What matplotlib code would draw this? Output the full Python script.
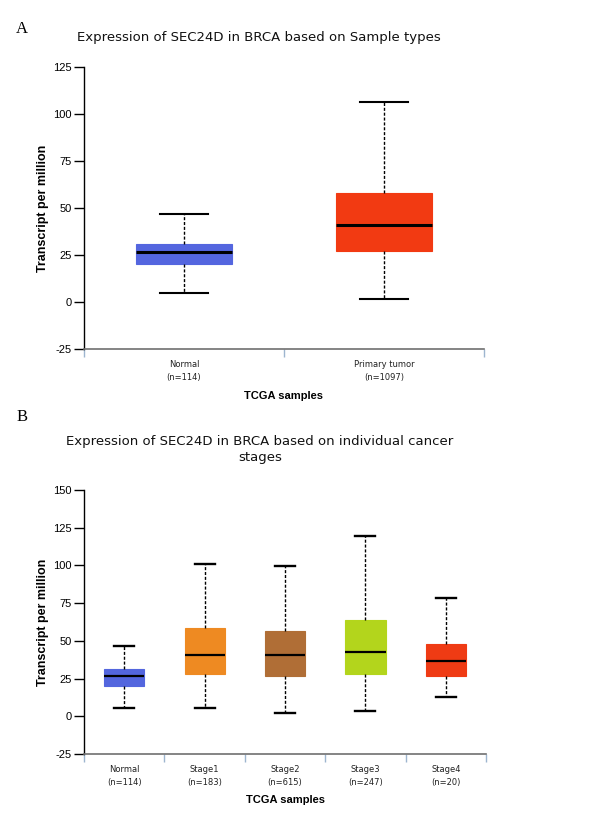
import matplotlib
matplotlib.use("Agg")
import matplotlib.pyplot as plt

# ---- Panel A data ----
a_categories = ["Normal\n(n=114)", "Primary tumor\n(n=1097)"]
a_whislo = [4.8, 1.6]
a_q1 = [20.4, 27.1]
a_med = [26.6, 41.1]
a_q3 = [30.9, 58.2]
a_whishi = [46.8, 106.4]
a_colors = ["#5466DF", "#F23A12"]
a_yticks = [-25, 0, 25, 50, 75, 100, 125]

# ---- Panel B data ----
b_categories = ["Normal\n(n=114)", "Stage1\n(n=183)", "Stage2\n(n=615)",
                "Stage3\n(n=247)", "Stage4\n(n=20)"]
b_whislo = [5.8, 5.8, 2.0, 3.3, 12.8]
b_q1 = [20.4, 28.3, 26.5, 27.7, 26.5]
b_med = [26.5, 40.5, 40.9, 42.9, 36.7]
b_q3 = [31.2, 58.6, 56.6, 63.5, 48.2]
b_whishi = [46.9, 100.9, 99.8, 119.7, 78.5]
b_colors = ["#5366DE", "#EE8A22", "#B06E36", "#B3D51C", "#EF3B14"]
b_yticks = [-25, 0, 25, 50, 75, 100, 125, 150]

W, H = 589, 835
fig = plt.figure(figsize=(W / 100, H / 100), dpi=100)


def px_axes(left, top, right, bottom):
    return fig.add_axes([left / W, 1 - bottom / H, (right - left) / W, (bottom - top) / H])


def draw_panel(ax, cats, lo, q1, med, q3, hi, colors, yticks, width, medlw, caplw):
    n = len(cats)
    stats = []
    for i in range(n):
        stats.append(dict(whislo=lo[i], q1=q1[i], med=med[i], q3=q3[i], whishi=hi[i], fliers=[]))
    pos = list(range(n))
    bp = ax.bxp(stats, positions=pos, widths=width, patch_artist=True, showfliers=False,
                whiskerprops=dict(color="black", lw=1.0, linestyle=(0, (2.2, 1.3))),
                capprops=dict(color="black", lw=caplw),
                medianprops=dict(color="black", lw=medlw),
                capwidths=width / 2)
    for patch, c in zip(bp["boxes"], colors):
        patch.set_facecolor(c)
        patch.set_edgecolor(c)
        patch.set_linewidth(0.8)
    ax.set_xlim(-0.5, n - 0.5)
    ax.set_ylim(yticks[0], yticks[-1])
    ax.set_yticks(yticks)
    ax.set_yticklabels([str(t) for t in yticks], fontsize=8, family="Liberation Sans")
    ax.tick_params(axis="y", direction="out", length=7, width=1, color="black", pad=2)
    ax.set_xticks(pos)
    ax.set_xticklabels(cats, fontsize=6, family="DejaVu Sans", color="#222222", linespacing=1.5)
    ax.tick_params(axis="x", which="major", length=0, pad=8)
    ax.set_xticks([i - 0.5 for i in range(n + 1)], minor=True)
    ax.tick_params(axis="x", which="minor", direction="out", length=6, width=1, color="#9DB5CF")
    for s in ["top", "right"]:
        ax.spines[s].set_visible(False)
    ax.spines["left"].set_color("black")
    ax.spines["left"].set_linewidth(1)
    ax.spines["bottom"].set_color("#707070")
    ax.spines["bottom"].set_linewidth(1.2)


# Panel A
axA = px_axes(84, 67, 484, 349)
draw_panel(axA, a_categories, a_whislo, a_q1, a_med, a_q3, a_whishi, a_colors, a_yticks, 0.48, 2.2, 1.5)

# Panel B
axB = px_axes(84, 490, 486, 754)
draw_panel(axB, b_categories, b_whislo, b_q1, b_med, b_q3, b_whishi, b_colors, b_yticks, 0.5, 1.6, 1.7)

# Texts
fig.text(22 / W, 1 - 29 / H, "A", fontsize=12, family="Liberation Serif", ha="center", va="center")
fig.text(22 / W, 1 - 417 / H, "B", fontsize=12, family="Liberation Serif", ha="center", va="center")

fig.text(259 / W, 1 - 37 / H, "Expression of SEC24D in BRCA based on Sample types",
         fontsize=9.5, family="DejaVu Sans", ha="center", va="center", color="#111111")
fig.text(260 / W, 1 - 449 / H, "Expression of SEC24D in BRCA based on individual cancer\nstages",
         fontsize=9.5, family="DejaVu Sans", ha="center", va="center", color="#111111",
         linespacing=1.3)

fig.text(43 / W, 1 - 208 / H, "Transcript per million", rotation=90, fontsize=9,
         fontweight="bold", family="Liberation Sans", ha="center", va="center")
fig.text(43 / W, 1 - 622 / H, "Transcript per million", rotation=90, fontsize=9,
         fontweight="bold", family="Liberation Sans", ha="center", va="center")
fig.text(284 / W, 1 - 396 / H, "TCGA samples", fontsize=8, fontweight="bold",
         family="Liberation Sans", ha="center", va="center")
fig.text(285 / W, 1 - 800 / H, "TCGA samples", fontsize=8, fontweight="bold",
         family="Liberation Sans", ha="center", va="center")

fig.savefig("out.png", dpi=100)
